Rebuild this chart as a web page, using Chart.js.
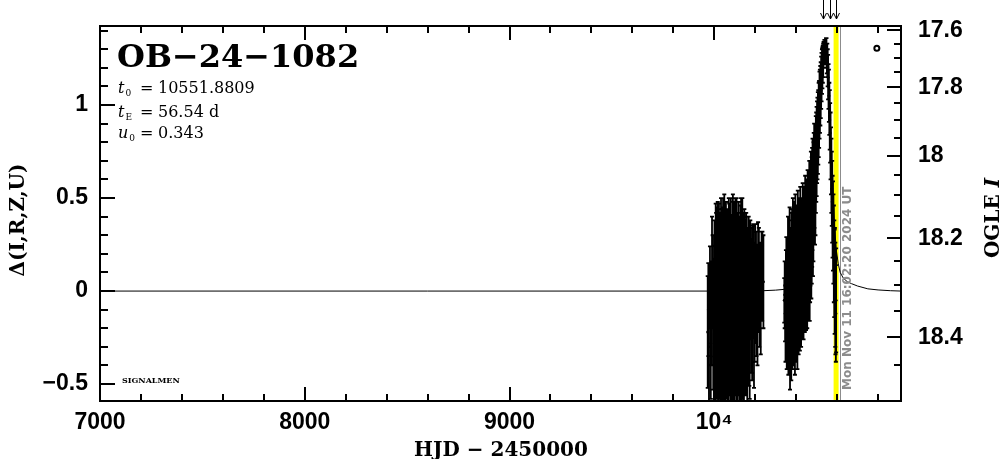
<!DOCTYPE html>
<html>
<head>
<meta charset="utf-8">
<script src="https://cdn.jsdelivr.net/npm/chart.js@4.4.1/dist/chart.umd.min.js"></script>
<style>
  html, body { margin: 0; padding: 0; background: #fff; }
</style>
</head>
<body>
<canvas id="c" width="1004" height="459"></canvas>
<script>
// observations: [HJD-2450000, delta, error]
const season2023 = [
  [9968, -0.22, 0.30], [9971, -0.10, 0.25], [9974, -0.30, 0.35], [9979, 0.02, 0.22],
  [9983, -0.28, 0.30], [9986, -0.12, 0.28], [9989, 0.10, 0.30], [9992, 0.05, 0.25],
  [9995, -0.18, 0.35], [9998, -0.35, 0.30], [10001, 0.08, 0.30], [10003, -0.08, 0.32],
  [10005, -0.28, 0.38], [10007, 0.12, 0.35], [10009, 0.00, 0.42], [10011, -0.20, 0.38],
  [10013, -0.12, 0.45], [10015, 0.05, 0.40], [10017, 0.10, 0.38], [10019, -0.30, 0.35],
  [10021, -0.22, 0.42], [10023, 0.15, 0.32], [10025, 0.02, 0.40], [10027, -0.10, 0.40],
  [10029, -0.18, 0.40], [10031, -0.25, 0.38], [10033, 0.12, 0.38], [10035, 0.08, 0.36],
  [10037, -0.30, 0.40], [10039, -0.15, 0.42], [10041, 0.00, 0.45], [10043, 0.18, 0.32],
  [10045, -0.20, 0.42], [10047, -0.32, 0.35], [10049, 0.14, 0.38], [10051, -0.05, 0.40],
  [10053, -0.28, 0.40], [10055, 0.10, 0.38], [10057, 0.04, 0.44], [10059, -0.22, 0.36],
  [10061, -0.14, 0.42], [10063, 0.02, 0.42], [10065, 0.10, 0.34], [10067, -0.38, 0.30],
  [10069, -0.24, 0.42], [10071, 0.14, 0.36], [10073, 0.02, 0.45], [10075, -0.12, 0.40],
  [10077, -0.16, 0.40], [10079, -0.28, 0.38], [10081, 0.12, 0.38], [10083, 0.06, 0.35],
  [10085, -0.30, 0.40], [10087, -0.18, 0.42], [10089, -0.04, 0.44], [10091, 0.12, 0.40],
  [10093, 0.08, 0.40], [10095, -0.35, 0.32], [10097, -0.22, 0.42], [10099, -0.02, 0.38],
  [10101, 0.06, 0.42], [10103, 0.16, 0.34], [10105, -0.12, 0.44], [10107, -0.26, 0.40],
  [10109, 0.14, 0.36], [10111, 0.04, 0.36], [10113, -0.28, 0.40], [10115, -0.14, 0.42],
  [10117, -0.02, 0.44], [10119, 0.10, 0.38], [10121, 0.10, 0.30], [10123, -0.30, 0.36],
  [10125, -0.18, 0.42], [10127, -0.06, 0.40], [10129, 0.04, 0.42], [10131, 0.15, 0.35],
  [10133, -0.26, 0.40], [10135, -0.20, 0.38], [10137, 0.12, 0.38], [10139, 0.02, 0.40],
  [10141, -0.10, 0.42], [10143, -0.34, 0.30], [10145, -0.22, 0.38], [10147, 0.08, 0.36],
  [10149, 0.06, 0.32], [10151, -0.12, 0.38], [10153, -0.16, 0.40], [10156, 0.12, 0.30],
  [10158, 0.02, 0.38], [10161, -0.24, 0.36], [10163, -0.10, 0.40], [10166, 0.00, 0.34],
  [10168, 0.10, 0.30], [10171, -0.16, 0.35], [10173, -0.22, 0.36], [10176, 0.10, 0.28],
  [10179, 0.04, 0.30], [10182, -0.08, 0.36], [10185, -0.12, 0.36], [10188, 0.05, 0.30],
  [10191, 0.10, 0.26], [10194, -0.18, 0.34], [10197, -0.06, 0.32], [10200, 0.08, 0.28],
  [10204, 0.02, 0.30], [10207, -0.05, 0.30], [10211, -0.10, 0.30], [10214, 0.12, 0.25],
  [10218, 0.06, 0.28], [10222, -0.02, 0.28], [10227, -0.04, 0.30], [10231, 0.10, 0.22],
  [10235, 0.08, 0.24], [10240, 0.05, 0.25]
];
const season2024 = [
  [10342, -0.05, 0.12], [10344, -0.02, 0.18], [10346, -0.12, 0.15], [10348, -0.18, 0.20],
  [10350, 0.02, 0.20], [10352, 0.05, 0.24], [10354, -0.20, 0.22], [10356, -0.10, 0.28],
  [10358, -0.02, 0.28], [10360, 0.10, 0.30], [10362, -0.15, 0.30], [10364, -0.08, 0.32],
  [10366, 0.08, 0.30], [10368, 0.15, 0.30], [10370, -0.25, 0.28], [10372, -0.05, 0.34],
  [10374, 0.02, 0.32], [10376, -0.18, 0.30], [10378, 0.12, 0.30], [10380, 0.10, 0.34],
  [10382, -0.10, 0.32], [10384, 0.20, 0.30], [10386, 0.05, 0.33], [10388, -0.06, 0.34],
  [10390, 0.18, 0.30], [10392, 0.05, 0.36], [10394, -0.15, 0.30], [10396, 0.22, 0.30],
  [10398, 0.08, 0.32], [10400, -0.04, 0.34], [10402, 0.15, 0.30], [10404, 0.12, 0.34],
  [10406, -0.08, 0.34], [10408, 0.24, 0.30], [10410, 0.10, 0.30], [10412, 0.02, 0.36],
  [10414, 0.20, 0.28], [10416, 0.16, 0.34], [10418, -0.02, 0.30], [10420, 0.26, 0.30],
  [10422, 0.14, 0.32], [10424, 0.06, 0.36], [10426, 0.22, 0.28], [10428, 0.15, 0.34],
  [10430, 0.04, 0.30], [10432, 0.28, 0.30], [10434, 0.18, 0.30], [10436, 0.10, 0.36],
  [10438, 0.25, 0.28], [10440, 0.22, 0.34], [10442, 0.08, 0.30], [10444, 0.32, 0.30],
  [10446, 0.20, 0.30], [10448, 0.15, 0.36], [10450, 0.28, 0.30], [10452, 0.26, 0.34],
  [10454, 0.12, 0.32], [10456, 0.35, 0.30], [10458, 0.25, 0.30], [10460, 0.20, 0.36],
  [10462, 0.30, 0.28], [10464, 0.38, 0.32], [10466, 0.18, 0.34], [10468, 0.28, 0.34],
  [10470, 0.35, 0.32], [10472, 0.45, 0.30], [10474, 0.30, 0.34], [10476, 0.38, 0.34],
  [10478, 0.45, 0.32], [10480, 0.52, 0.30], [10482, 0.40, 0.32], [10484, 0.48, 0.32],
  [10486, 0.55, 0.30], [10488, 0.62, 0.28], [10490, 0.62, 0.28], [10492, 0.55, 0.30],
  [10494, 0.58, 0.28], [10496, 0.68, 0.26], [10498, 0.72, 0.24], [10500, 0.75, 0.24],
  [10502, 0.80, 0.22], [10504, 0.82, 0.22], [10506, 0.85, 0.22], [10508, 0.88, 0.20],
  [10510, 0.92, 0.20], [10512, 0.95, 0.18], [10514, 1.00, 0.18], [10516, 1.02, 0.17],
  [10518, 1.05, 0.16], [10520, 1.08, 0.15], [10522, 1.12, 0.14], [10524, 1.15, 0.13],
  [10526, 1.18, 0.12], [10528, 1.20, 0.11], [10530, 1.22, 0.10], [10532, 1.24, 0.09],
  [10534, 1.27, 0.07], [10536, 1.28, 0.06], [10538, 1.30, 0.05], [10540, 1.30, 0.05],
  [10542, 1.28, 0.05], [10546, 1.30, 0.06], [10548, 1.28, 0.08], [10550, 1.25, 0.08],
  [10552, 1.24, 0.09], [10554, 1.20, 0.10], [10556, 1.15, 0.12], [10558, 1.10, 0.12],
  [10560, 1.05, 0.14], [10562, 0.98, 0.14], [10564, 0.92, 0.16], [10566, 0.85, 0.16],
  [10568, 0.78, 0.18], [10570, 0.70, 0.18], [10572, 0.62, 0.20], [10574, 0.55, 0.20],
  [10576, 0.48, 0.22], [10578, 0.40, 0.22], [10580, 0.35, 0.24], [10582, 0.28, 0.24],
  [10584, 0.20, 0.26], [10586, 0.12, 0.26], [10588, 0.05, 0.28], [10589, 0.10, 0.24],
  [10591, -0.02, 0.28], [10592, -0.08, 0.26], [10594, -0.12, 0.26], [10595, -0.05, 0.28]
];

// model light curve
const modelTime = [7000, 10200, 10300, 10350, 10400, 10440, 10470, 10490, 10505, 10520, 10532,
  10542, 10548, 10556, 10564, 10572, 10580, 10588, 10596, 10605, 10615, 10630, 10650, 10670,
  10700, 10750, 10800, 10860, 10912];
const modelDelta = [0, 0, 0.005, 0.01, 0.03, 0.1, 0.25, 0.55, 0.8, 1.08, 1.24,
  1.3, 1.3, 1.18, 0.95, 0.7, 0.5, 0.34, 0.22, 0.15, 0.1, 0.07, 0.05, 0.04,
  0.027, 0.012, 0.006, 0.002, 0];

const extraPoint = [10794, 1.306];
const arrowTimes = [10532, 10566, 10595];
const yellowTime = 10595;
const nowTime = 10614;

const xTickValues = [7000, 8000, 9000, 10000];
const xTickLabels = ["7000", "8000", "9000", "10\u2074"];
const yTickValues = [-0.5, 0, 0.5, 1];
const yTickLabels = ["\u22120.5", "0", "0.5", "1"];
const magTickValues = [17.6, 17.8, 18.0, 18.2, 18.4];
const magTickLabels = ["17.6", "17.8", "18", "18.2", "18.4"];

const X_MIN = 7000, X_MAX = 10912;
const Y_MIN = -0.591, Y_MAX = 1.425;

// OGLE I magnitude -> delta on the left axis
function magToDelta(m) {
  return 2.915 - 1.514 * Math.pow(10, 0.4 * (m - 17.6));
}

const observations = season2023.concat(season2024);
const tickFont = { family: "Liberation Sans", size: 23, weight: "bold" };

const decor = {
  id: "decor",
  beforeDatasetsDraw(chart) {
    const { ctx, chartArea: a, scales: { x } } = chart;
    ctx.save();
    const xy = x.getPixelForValue(yellowTime);
    ctx.fillStyle = "#ffff00";
    ctx.fillRect(xy - 2.5, a.top, 5, a.bottom - a.top);
    const xg = Math.round(x.getPixelForValue(nowTime));
    ctx.fillStyle = "#8c8c8c";
    ctx.fillRect(xg, a.top, 1, a.bottom - a.top);
    ctx.restore();
  },
  afterDatasetsDraw(chart) {
    const { ctx, chartArea: a, scales: { x, y } } = chart;
    ctx.save();
    ctx.beginPath();
    ctx.rect(a.left, a.top, a.right - a.left, a.bottom - a.top);
    ctx.clip();
    ctx.strokeStyle = "#000";
    ctx.lineWidth = 1.8;
    ctx.beginPath();
    observations.forEach(([t, d, e]) => {
      const px = x.getPixelForValue(t);
      const lo = y.getPixelForValue(d - e);
      const hi = y.getPixelForValue(d + e);
      ctx.moveTo(px, lo); ctx.lineTo(px, hi);
      ctx.moveTo(px - 2, lo); ctx.lineTo(px + 2, lo);
      ctx.moveTo(px - 2, hi); ctx.lineTo(px + 2, hi);
    });
    ctx.stroke();
    ctx.restore();
  },
  afterDraw(chart) {
    const { ctx, chartArea: a, scales: { x, y } } = chart;
    ctx.save();
    ctx.strokeStyle = "#000";
    ctx.fillStyle = "#000";
    ctx.lineWidth = 2;
    ctx.strokeRect(a.left, a.top, a.right - a.left, a.bottom - a.top);

    // x ticks, bottom and top, inward
    ctx.beginPath();
    for (let v = 7000; v <= X_MAX; v += 200) {
      const px = Math.round(x.getPixelForValue(v));
      const len = v % 1000 === 0 ? 14 : 7;
      ctx.moveTo(px, a.bottom); ctx.lineTo(px, a.bottom - len);
      ctx.moveTo(px, a.top); ctx.lineTo(px, a.top + len);
    }
    // left ticks
    for (let k = -5; k <= 14; k++) {
      const py = Math.round(y.getPixelForValue(k / 10));
      const len = k % 5 === 0 ? 15 : 8;
      ctx.moveTo(a.left, py); ctx.lineTo(a.left + len, py);
    }
    // right magnitude ticks
    for (let k = 0; k <= 17; k++) {
      const d = magToDelta(17.6 + k * 0.05);
      if (d < Y_MIN) break;
      const py = Math.round(y.getPixelForValue(d));
      const len = k % 4 === 0 ? 14 : 7;
      ctx.moveTo(a.right, py); ctx.lineTo(a.right - len, py);
    }
    ctx.stroke();

    // arrows above the frame
    ctx.lineWidth = 1;
    ctx.beginPath();
    arrowTimes.forEach(t => {
      const px = Math.round(x.getPixelForValue(t)) + 0.5;
      ctx.moveTo(px, 0); ctx.lineTo(px, 19);
      ctx.moveTo(px - 3, 13); ctx.lineTo(px, 19); ctx.lineTo(px + 3, 13);
    });
    ctx.stroke();

    // title and event parameters
    ctx.textBaseline = "alphabetic";
    ctx.textAlign = "left";
    ctx.font = "bold 32px 'DejaVu Serif'";
    ctx.fillText("OB\u221224\u22121082", 117, 67);

    const params = [["t", "0", "10551.8809", 93], ["t", "E", "56.54 d", 117], ["u", "0", "0.343", 138]];
    params.forEach(([sym, sub, rest, by]) => {
      ctx.font = "italic 16px 'DejaVu Serif'";
      ctx.fillText(sym, 118, by);
      const sw = ctx.measureText(sym).width;
      ctx.font = "9px 'DejaVu Serif'";
      ctx.fillText(sub, 119 + sw, by + 3);
      ctx.font = "16px 'DejaVu Serif'";
      ctx.fillText("=", 140, by);
      ctx.fillText(rest, 158, by);
    });

    ctx.font = "bold 8px 'DejaVu Serif'";
    ctx.fillText("SIGNALMEN", 122, 383);

    // axis titles
    ctx.font = "bold 20px 'DejaVu Serif'";
    ctx.textAlign = "center";
    ctx.fillText("HJD \u2212 2450000", 501, 456);

    ctx.save();
    ctx.translate(24, 220);
    ctx.rotate(-Math.PI / 2);
    ctx.fillText("\u0394(I,R,Z,U)", 0, 0);
    ctx.restore();

    ctx.save();
    ctx.translate(999, 218);
    ctx.rotate(-Math.PI / 2);
    ctx.textAlign = "left";
    ctx.font = "bold 20px 'DejaVu Serif'";
    const w1 = ctx.measureText("OGLE ").width;
    ctx.font = "bold italic 20px 'DejaVu Serif'";
    const w2 = ctx.measureText("I").width;
    ctx.font = "bold 20px 'DejaVu Serif'";
    ctx.fillText("OGLE ", -(w1 + w2) / 2, 0);
    ctx.font = "bold italic 20px 'DejaVu Serif'";
    ctx.fillText("I", -(w1 + w2) / 2 + w1, 0);
    ctx.restore();

    // timestamp
    ctx.save();
    ctx.translate(x.getPixelForValue(nowTime) + 8, 390);
    ctx.rotate(-Math.PI / 2);
    ctx.textAlign = "left";
    ctx.textBaseline = "middle";
    ctx.fillStyle = "#8c8c8c";
    ctx.font = "bold 12px 'DejaVu Sans'";
    ctx.fillText("Mon Nov 11 16:02:20 2024 UT", 0, 0);
    ctx.restore();

    ctx.restore();
  }
};

function noPad(s) {
  s.paddingTop = 0; s.paddingBottom = 0; s.paddingLeft = 0; s.paddingRight = 0;
}

new Chart(document.getElementById("c"), {
  type: "scatter",
  data: {
    datasets: [
      {
        type: "line",
        data: modelTime.map((t, i) => ({ x: t, y: modelDelta[i] })),
        borderColor: "#000",
        borderWidth: 1,
        pointRadius: 0,
        tension: 0
      },
      {
        data: observations.map(([t, d]) => ({ x: t, y: d })),
        pointRadius: 1.5,
        backgroundColor: "#000",
        borderColor: "#000",
        borderWidth: 0
      },
      {
        data: [{ x: extraPoint[0], y: extraPoint[1] }],
        pointRadius: 2.5,
        borderWidth: 2,
        borderColor: "#000",
        backgroundColor: "#fff"
      }
    ]
  },
  options: {
    responsive: false,
    animation: false,
    layout: { padding: { top: 26, left: 0, right: 0, bottom: 0 } },
    plugins: { legend: { display: false }, tooltip: { enabled: false } },
    scales: {
      x: {
        type: "linear",
        position: "bottom",
        min: X_MIN,
        max: X_MAX,
        afterBuildTicks: s => { s.ticks = xTickValues.map(v => ({ value: v })); },
        afterFit: s => { s.height = 58; noPad(s); },
        grid: { display: false, drawTicks: false },
        border: { display: false },
        ticks: {
          autoSkip: false,
          maxRotation: 0,
          padding: 8,
          color: "#000",
          font: tickFont,
          callback: v => xTickLabels[xTickValues.indexOf(v)]
        }
      },
      y: {
        position: "left",
        min: Y_MIN,
        max: Y_MAX,
        afterBuildTicks: s => { s.ticks = yTickValues.map(v => ({ value: v })); },
        afterFit: s => { s.width = 100; noPad(s); },
        grid: { display: false, drawTicks: false },
        border: { display: false },
        ticks: {
          autoSkip: false,
          padding: 12,
          color: "#000",
          font: tickFont,
          callback: v => yTickLabels[yTickValues.indexOf(v)]
        }
      },
      y2: {
        position: "right",
        min: Y_MIN,
        max: Y_MAX,
        afterBuildTicks: s => { s.ticks = magTickValues.map(m => ({ value: magToDelta(m) })); },
        afterFit: s => { s.width = 103; noPad(s); },
        grid: { display: false, drawTicks: false },
        border: { display: false },
        ticks: {
          autoSkip: false,
          padding: 17,
          color: "#000",
          font: tickFont,
          callback: (v, i) => magTickLabels[i]
        }
      }
    }
  },
  plugins: [decor]
});
</script>
</body>
</html>
